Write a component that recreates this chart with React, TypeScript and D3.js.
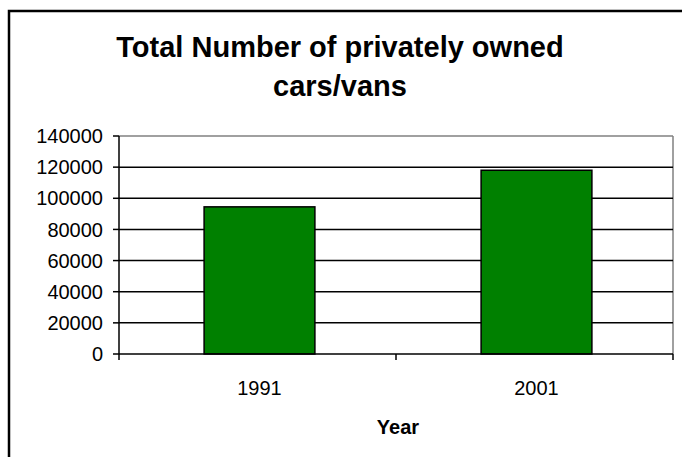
import React from "react";
import * as d3 from "d3";

const categories = ["1991", "2001"];
const values = [94500, 118000];
const yTicks = [0, 20000, 40000, 60000, 80000, 100000, 120000, 140000];
const titleLines = ["Total Number of privately owned", "cars/vans"];
const xTitle = "Year";

const W = 682;
const H = 457;
const plot = { left: 119, right: 673, top: 136, bottom: 354 };
const font = "Arial, 'Liberation Sans', sans-serif";

export default function App() {
  const x = d3
    .scaleBand<string>()
    .domain(categories)
    .range([plot.left + 2, plot.right + 2])
    .paddingInner(0.6)
    .paddingOuter(0.3);
  const xCat = d3.scaleBand<string>().domain(categories).range([plot.left, plot.right]);
  const y = d3.scaleLinear().domain([0, 140000]).range([plot.bottom, plot.top]);

  const catEdges = [plot.left, ...categories.map((c) => (xCat(c) as number) + xCat.bandwidth())];

  return (
    <svg
      width={W}
      height={H}
      style={{ position: "fixed", left: 0, top: 0, background: "#fff" }}
      fontFamily={font}
    >
      <rect x={0} y={0} width={W} height={H} fill="#fff" />
      {/* outer chart frame */}
      <rect x={9} y={11} width={720} height={500} fill="none" stroke="#000" strokeWidth={2.5} />
      {/* title */}
      <text x={340} y={57} textAnchor="middle" fontSize={29} fontWeight="bold" fill="#000">
        {titleLines[0]}
      </text>
      <text x={340} y={96} textAnchor="middle" fontSize={29} fontWeight="bold" fill="#000">
        {titleLines[1]}
      </text>
      {/* plot area border */}
      <line x1={plot.left} x2={plot.right} y1={plot.top} y2={plot.top} stroke="#808080" strokeWidth={1.5} />
      <line x1={plot.right} x2={plot.right} y1={plot.top} y2={plot.bottom} stroke="#808080" strokeWidth={1.5} />
      {/* gridlines */}
      {yTicks
        .filter((t) => t > 0 && t < 140000)
        .map((t) => (
          <line key={t} x1={plot.left} x2={plot.right} y1={y(t)} y2={y(t)} stroke="#000" strokeWidth={1.5} />
        ))}
      {/* bars */}
      {categories.map((c, i) => (
        <rect
          key={c}
          x={x(c)}
          y={y(values[i])}
          width={x.bandwidth()}
          height={y(0) - y(values[i])}
          fill="#008000"
          stroke="#000"
          strokeWidth={1.5}
        />
      ))}
      {/* y axis */}
      <line x1={plot.left} x2={plot.left} y1={plot.top} y2={plot.bottom} stroke="#000" strokeWidth={1.5} />
      {yTicks.map((t) => (
        <g key={t}>
          <line x1={plot.left - 6} x2={plot.left} y1={y(t)} y2={y(t)} stroke="#000" strokeWidth={1.5} />
          <text x={103} y={y(t)} dy="0.36em" textAnchor="end" fontSize={20} fill="#000">
            {t}
          </text>
        </g>
      ))}
      {/* x axis */}
      <line x1={plot.left} x2={plot.right} y1={plot.bottom} y2={plot.bottom} stroke="#000" strokeWidth={1.5} />
      {catEdges.map((e, i) => (
        <line key={i} x1={e} x2={e} y1={plot.bottom} y2={plot.bottom + 6} stroke="#000" strokeWidth={1.5} />
      ))}
      {categories.map((c) => (
        <text
          key={c}
          x={(x(c) as number) + x.bandwidth() / 2}
          y={395}
          textAnchor="middle"
          fontSize={20}
          fill="#000"
        >
          {c}
        </text>
      ))}
      <text x={398} y={434} textAnchor="middle" fontSize={20} fontWeight="bold" fill="#000">
        {xTitle}
      </text>
    </svg>
  );
}
